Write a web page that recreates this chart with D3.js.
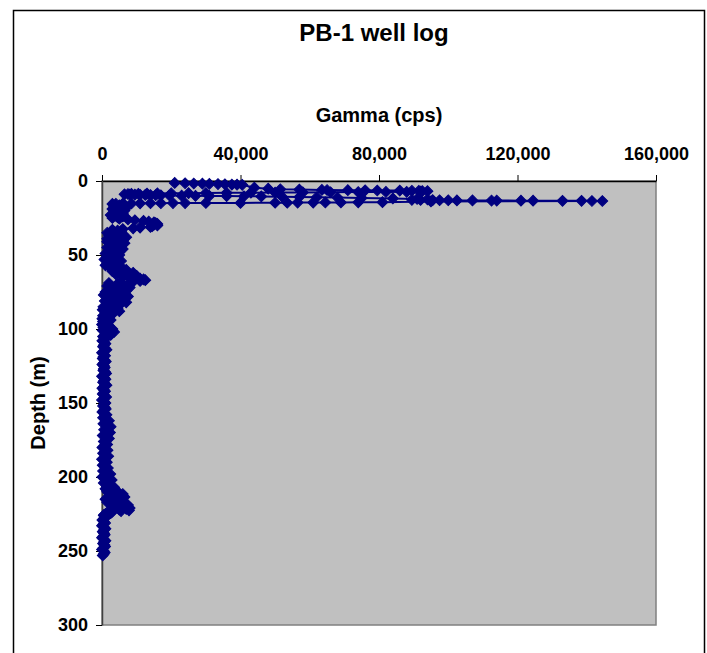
<!DOCTYPE html>
<html>
<head>
<meta charset="utf-8">
<script src="https://cdn.jsdelivr.net/npm/d3@7"></script>
<style>
  html, body { margin: 0; padding: 0; background: #fff; }
  svg { display: block; }
  text { font-family: "Liberation Sans", Arial, Helvetica, sans-serif; font-weight: bold; fill: #000; }
</style>
</head>
<body>
<svg id="chart" width="707" height="653"></svg>
<script>
// Gamma log of well PB-1: depth below surface (m) and gamma count rate (cps)

// near-surface readings (casing zone)
const casingDepthM = [
  1.3, 1.5, 1.7, 1.8, 2.0, 2.1, 2.2, 2.4, 2.5, 2.6,
  4.5, 5.2, 5.6, 5.8, 6.0, 6.1, 6.2, 6.3, 6.4, 6.5, 6.6, 6.7, 6.8, 6.9,
  7.2, 7.3, 7.4, 7.5, 7.6, 7.7, 7.8, 7.9, 8.0, 8.1, 8.2, 8.3, 8.4, 8.5, 8.6, 8.7, 8.8,
  9.0, 9.1, 9.2, 9.3, 9.4, 9.5, 9.6, 9.7, 9.8, 9.9, 10.0, 10.1, 10.2, 10.3, 10.4, 10.6, 10.8, 11.0, 11.2, 11.5, 11.8, 12.1, 12.4,
  12.7, 12.8, 12.9, 13.0, 13.0, 13.1, 13.1, 13.2, 13.2, 13.3, 13.3, 13.4, 13.4, 13.5, 13.5,
  13.8, 14.3, 14.4, 14.5, 14.5, 14.6, 14.6, 14.7, 14.7, 14.8, 14.8, 14.9, 14.9, 15.0, 15.0, 15.1, 15.2, 15.3, 15.4, 15.5
];
const casingGammaCps = [
  21000, 24000, 26500, 29000, 31000, 33500, 35500, 37500, 39000, 40500,
  44000, 48000, 51500, 57000, 63500, 65000, 71000, 76000, 79500, 86000, 89500, 91500, 92500, 94000,
  92000, 88000, 82000, 74000, 66000, 58000, 50000, 43000, 36000, 30000, 25000, 20000, 16000, 13000, 10500, 8500, 7500,
  6500, 8000, 9500, 11000, 12500, 14000, 15500, 17000, 19500, 23000, 27000, 31000, 36000, 41000, 46000, 52000, 57000, 62000, 68000, 75000, 84000, 91000, 94000,
  89500, 92000, 95500, 97500, 100000, 102500, 107000, 112500, 114000, 121000, 124500, 133000, 138500, 141500, 144500,
  95000, 81000, 74000, 69000, 64500, 61000, 56500, 53500, 50000, 40000, 30000, 24000, 20500, 17000, 14000, 11000, 8500, 6000, 4000, 3000
];

// open hole readings
const holeDepthM = [
  16, 16.5, 17, 17.5, 18, 18.5, 19, 19.5, 20, 20.5,
  21, 21.5, 22, 22.5, 23, 23.5, 24, 24.5, 25, 25.5,
  26, 26.5, 27, 27.5, 28, 28.5, 29, 29.5, 30, 30.5,
  31, 31.5, 32, 32.5, 33, 33.5, 34, 34.5, 35, 35.5,
  36, 36.5, 37, 37.5, 38, 38.5, 39, 39.5, 40, 40.5,
  41, 41.5, 42, 42.5, 43, 43.5, 44, 44.5, 45, 45.5,
  46, 46.5, 47, 47.5, 48, 48.5, 49, 49.5, 50, 50.5,
  51, 51.5, 52, 52.5, 53, 53.5, 54, 54.5, 55, 55.5,
  56, 56.5, 57, 57.5, 58, 58.5, 59, 59.5, 60, 60.5,
  61, 61.5, 62, 62.5, 63, 63.5, 64, 64.5, 65, 65.5,
  66, 66.5, 67, 67.5, 68, 68.5, 69, 69.5, 70, 70.5,
  71, 71.5, 72, 72.5, 73, 73.5, 74, 74.5, 75, 75.5,
  76, 76.5, 77, 77.5, 78, 78.5, 79, 79.5, 80, 80.5,
  81, 81.5, 82, 82.5, 83, 83.5, 84, 84.5, 85, 85.5,
  86, 86.5, 87, 87.5, 88, 88.5, 89, 89.5, 90, 90.5,
  91, 91.5, 92, 92.5, 93, 93.5, 94, 94.5, 95, 95.5,
  96, 96.5, 97, 97.5, 98, 98.5, 99, 99.5, 100, 100.5,
  101, 101.5, 102, 102.5, 103, 103.5, 104, 104.5, 105, 105.5,
  106, 107, 108, 109, 110, 111, 112, 113, 114, 115,
  116, 117, 118, 119, 120, 121, 122, 123, 124, 125,
  126, 127, 128, 129, 130, 131, 132, 133, 134, 135,
  136, 137, 138, 139, 140, 141, 142, 143, 144, 145,
  146, 147, 148, 149, 150, 151, 152, 153, 154, 155,
  156, 157, 158, 159, 160, 161, 162, 163, 164, 165,
  166, 167, 168, 169, 170, 171, 172, 173, 174, 175,
  176, 177, 178, 179, 180, 181, 182, 183, 184, 185,
  186, 187, 188, 189, 190, 191, 192, 193, 194, 195,
  196, 197, 198, 199, 200, 201, 202, 203, 204, 205,
  206, 206.5, 207, 207.5, 208, 208.5, 209, 209.5, 210, 210.5,
  211, 211.5, 212, 212.5, 213, 213.5, 214, 214.5, 215, 215.5,
  216, 216.5, 217, 217.5, 218, 218.5, 219, 219.5, 220, 220.5,
  221, 221.5, 222, 222.5, 223, 223.5, 224, 224.5, 225, 225.5,
  226, 227, 228, 229, 230, 231, 232, 233, 234, 235,
  236, 237, 238, 239, 240, 241, 242, 243, 244, 245,
  246, 247, 248, 249, 250, 251, 252, 253
];
const holeGammaCps = [
  6500, 5000, 3500, 5000, 7000, 5500, 3000, 4500, 6500, 5000,
  3500, 4500, 6000, 4500, 2500, 4000, 6000, 4500, 3000, 5000,
  7500, 9500, 12000, 13500, 15000, 15500, 16000, 15000, 16000, 14500,
  14000, 11000, 9000, 6000, 3000, 4500, 5500, 3500, 1500, 3500,
  6000, 4000, 2000, 4500, 7000, 4500, 1500, 3500, 6000, 3500,
  1500, 4000, 6500, 4500, 2500, 4000, 5500, 3500, 1500, 4000,
  6000, 4000, 2000, 3500, 5000, 3000, 1000, 3000, 5000, 3000,
  1500, 3000, 4500, 2500, 700, 3000, 5500, 3500, 2000, 3000,
  4500, 2500, 1000, 3000, 5500, 4000, 2500, 4500, 7000, 5000,
  3000, 6000, 9000, 6500, 4000, 7000, 10000, 8000, 6000, 8500,
  11000, 12000, 12500, 11000, 9000, 5500, 2000, 4500, 7500, 4500,
  1500, 4500, 8000, 5500, 3000, 5000, 7000, 4000, 1000, 4000,
  6500, 3500, 500, 4000, 7500, 4500, 2000, 4000, 6000, 3500,
  800, 4000, 7000, 4000, 1500, 3000, 5000, 2500, 400, 2500,
  4500, 2500, 200, 2500, 5000, 3000, 1000, 2000, 3000, 1500,
  300, 1200, 2000, 1000, 100, 1300, 2500, 1300, 300, 900,
  1500, 700, 0, 1000, 2000, 1200, 400, 1700, 3000, 1600,
  200, 1800, 3500, 2200, 1000, 1800, 2500, 1400, 300, 700,
  1200, 600, 100, 700, 1000, 500, 300, 900, 1300, 600,
  0, 500, 900, 400, 200, 700, 1100, 500, 100, 600,
  800, 500, 400, 900, 1200, 500, 0, 600, 1000, 600,
  300, 800, 1300, 600, 100, 500, 900, 500, 200, 700,
  1200, 500, 0, 600, 1000, 600, 300, 800, 1100, 500,
  100, 700, 1300, 800, 300, 1000, 2000, 1000, 400, 1500,
  2500, 1400, 600, 1500, 2300, 1200, 200, 1200, 2000, 1100,
  500, 1000, 1500, 700, 100, 900, 1600, 900, 300, 1000,
  1800, 800, 0, 700, 1400, 800, 200, 1000, 1700, 900,
  300, 1300, 2400, 1200, 100, 1500, 2800, 1500, 500, 1600,
  2600, 1500, 3500, 2500, 1000, 2500, 4000, 3000, 1500, 3500,
  5000, 6000, 4500, 3000, 5000, 6500, 4500, 2500, 1000, 3000,
  4500, 3000, 1500, 3500, 6000, 7000, 7500, 5500, 3000, 6000,
  8000, 7000, 5000, 7800, 5500, 3000, 1500, 2500, 1000, 600,
  500, 1200, 600, 100, 500, 900, 400, 0, 600, 1000,
  500, 200, 600, 800, 400, 0, 500, 1000, 600, 300,
  700, 900, 400, 0, 500, 800, 500, 200
];

const gammaTicks = [0, 40000, 80000, 120000, 160000];
const depthTicks = [0, 50, 100, 150, 200, 250, 300];

const chartTitle = "PB-1 well log";
const gammaTitle = "Gamma (cps)";
const depthTitle = "Depth (m)";

const plot = { left: 102, top: 181, right: 656, bottom: 625 };
const lineColor = "#000080";

const svg = d3.select("#chart");

const x = d3.scaleLinear().domain([0, 160000]).range([plot.left, plot.right]);
const y = d3.scaleLinear().domain([0, 300]).range([plot.top, plot.bottom]);

// chart frame
svg.append("rect")
  .attr("x", 13.5).attr("y", 10.5)
  .attr("width", 691).attr("height", 700)
  .attr("fill", "#fff").attr("stroke", "#000").attr("stroke-width", 1.5);

// plot area
svg.append("rect")
  .attr("x", plot.left).attr("y", plot.top)
  .attr("width", plot.right - plot.left).attr("height", plot.bottom - plot.top)
  .attr("fill", "#C0C0C0").attr("stroke", "#808080").attr("stroke-width", 1.5);

// titles
svg.append("text")
  .attr("x", 374).attr("y", 41)
  .attr("text-anchor", "middle").style("font-size", "24px")
  .text(chartTitle);

svg.append("text")
  .attr("x", 379).attr("y", 122)
  .attr("text-anchor", "middle").style("font-size", "20px")
  .text(gammaTitle);

svg.append("text")
  .attr("transform", `translate(45, ${(plot.top + plot.bottom) / 2}) rotate(-90)`)
  .attr("text-anchor", "middle").style("font-size", "20px")
  .text(depthTitle);

// gamma axis along the top
const xAxis = d3.axisTop(x)
  .tickValues(gammaTicks)
  .tickFormat(d3.format(","))
  .tickSize(6).tickSizeOuter(0).tickPadding(15);

const gx = svg.append("g")
  .attr("transform", `translate(0, ${plot.top})`)
  .call(xAxis);
gx.select(".domain").attr("stroke", "#000").attr("stroke-width", 1.5);
gx.selectAll(".tick line").attr("stroke", "#000").attr("stroke-width", 1);
gx.selectAll(".tick text").style("font-size", "18px").attr("font-family", null);

// depth axis on the left
const yAxis = d3.axisLeft(y)
  .tickValues(depthTicks)
  .tickSize(6).tickSizeOuter(0).tickPadding(8);

const gy = svg.append("g")
  .attr("transform", `translate(${plot.left}, 0)`)
  .call(yAxis);
gy.select(".domain").attr("stroke", "#404040").attr("stroke-width", 1.5);
gy.selectAll(".tick line").attr("stroke", "#000").attr("stroke-width", 1);
gy.selectAll(".tick text").style("font-size", "18px").attr("font-family", null);

// log trace: connecting line plus diamond markers
const depthM = casingDepthM.concat(holeDepthM);
const gammaCps = casingGammaCps.concat(holeGammaCps);
const points = depthM
  .map((d, i) => ({ depth: d, gamma: gammaCps[i] }))
  .filter(p => p.gamma !== undefined);

const line = d3.line()
  .x(d => x(d.gamma))
  .y(d => y(d.depth));

svg.append("path")
  .datum(points)
  .attr("fill", "none")
  .attr("stroke", lineColor)
  .attr("stroke-width", 2)
  .attr("stroke-linejoin", "round")
  .attr("d", line);

const diamond = d3.symbol().type(d3.symbolSquare).size(58);

svg.append("g")
  .selectAll("path")
  .data(points)
  .join("path")
  .attr("transform", d => `translate(${x(d.gamma)}, ${y(d.depth)}) rotate(45)`)
  .attr("d", diamond)
  .attr("fill", lineColor)
  .attr("stroke", lineColor)
  .attr("stroke-width", 1);
</script>
</body>
</html>
